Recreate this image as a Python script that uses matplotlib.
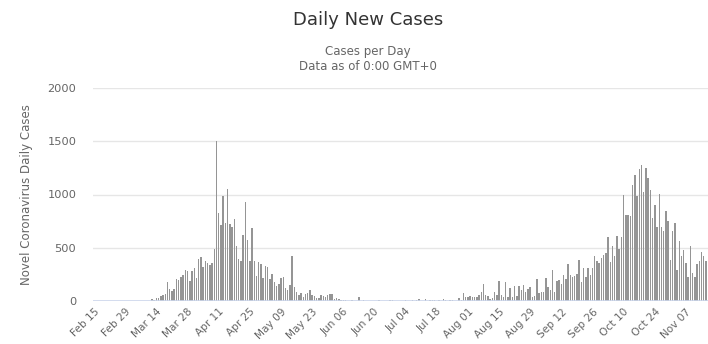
import numpy as np
import pandas as pd
import matplotlib.pyplot as plt

# daily new cases, one value per day starting Feb 15
daily_cases = [
    0, 0, 0, 0, 0, 0, 0, 0, 0, 0,
    0, 0, 0, 0, 0, 0, 0, 0, 0, 0,
    0, 0, 0, 0, 0, 0, 15, 10, 25, 28,
    47, 57, 66, 179, 113, 97, 113, 207, 198, 229,
    242, 292, 283, 192, 283, 314, 215, 396, 414, 318,
    377, 361, 338, 360, 486, 1500, 830, 716, 983, 732,
    1055, 719, 692, 766, 520, 398, 378, 622, 926, 572,
    375, 688, 377, 236, 365, 345, 217, 330, 320, 210,
    255, 182, 141, 157, 215, 229, 120, 104, 150, 418,
    129, 88, 57, 79, 41, 66, 72, 104, 57, 44,
    31, 25, 57, 44, 41, 53, 62, 66, 20, 31,
    19, 13, 13, 10, 0, 0, 8, 0, 0, 41,
    0, 8, 0, 0, 0, 0, 0, 0, 5, 0,
    0, 0, 0, 8, 8, 0, 0, 3, 0, 0,
    8, 0, 0, 5, 0, 10, 15, 0, 4, 15,
    0, 5, 10, 12, 0, 5, 0, 20, 8, 0,
    8, 12, 0, 0, 28, 10, 72, 35, 35, 47,
    35, 35, 35, 57, 85, 160, 60, 47, 15, 25,
    85, 57, 188, 57, 35, 182, 35, 122, 41, 141,
    47, 141, 104, 151, 88, 112, 132, 41, 47, 207,
    79, 88, 88, 220, 135, 104, 292, 82, 188, 198,
    160, 245, 204, 349, 245, 223, 239, 255, 386, 182,
    314, 229, 314, 245, 314, 424, 377, 355, 402, 433,
    455, 597, 367, 512, 418, 606, 487, 600, 1000, 808,
    808, 802, 1085, 1179, 990, 1242, 1273, 1022, 1251, 1157,
    1046, 779, 906, 693, 1006, 693, 661, 843, 755, 386,
    655, 733, 292, 567, 418, 481, 355, 223, 518, 261,
    223, 346, 380, 462, 418, 371,
]
dates = pd.date_range('2020-02-15', periods=len(daily_cases), freq='D')
y_ticks = [0, 500, 1000, 1500, 2000]

fig = plt.figure(figsize=(7.08, 3.44), dpi=100)
ax = fig.add_axes([93 / 708, 43 / 344, 615 / 708, 213 / 344])

x = np.arange(len(daily_cases))
ax.bar(x, daily_cases, width=0.65, color='#959595', zorder=3)

ax.set_xlim(-0.5, 275.9)
ax.set_ylim(0, 2000)
ax.set_yticks(y_ticks)
ax.set_yticklabels([str(v) for v in y_ticks])
for v in y_ticks[1:]:
    ax.axhline(v, color='#e6e6e6', lw=1, zorder=1)
ax.axhline(0, color='#ccd6eb', lw=1.2, zorder=4)

tick_pos = x[::14]
ax.set_xticks(tick_pos)
ax.set_xticklabels([d.strftime('%b %d') for d in dates[::14]],
                   rotation=45, ha='right', rotation_mode='anchor')

for s in ax.spines.values():
    s.set_visible(False)
ax.tick_params(axis='both', length=0, colors='#666666')
ax.tick_params(axis='y', pad=12, labelsize=8.2)
ax.tick_params(axis='x', pad=4, labelsize=7.6)
ax.set_ylabel('Novel Coronavirus Daily Cases', color='#666666', fontsize=8.5, labelpad=10)

fig.text(368 / 708, 1 - 20 / 344, 'Daily New Cases', ha='center', va='center',
         fontsize=13, color='#333333')
fig.text(368 / 708, 1 - 51 / 344, 'Cases per Day', ha='center', va='center',
         fontsize=8.5, color='#666666')
fig.text(368 / 708, 1 - 67 / 344, 'Data as of 0:00 GMT+0', ha='center', va='center',
         fontsize=8.5, color='#666666')

fig.savefig('out.png', dpi=100)
